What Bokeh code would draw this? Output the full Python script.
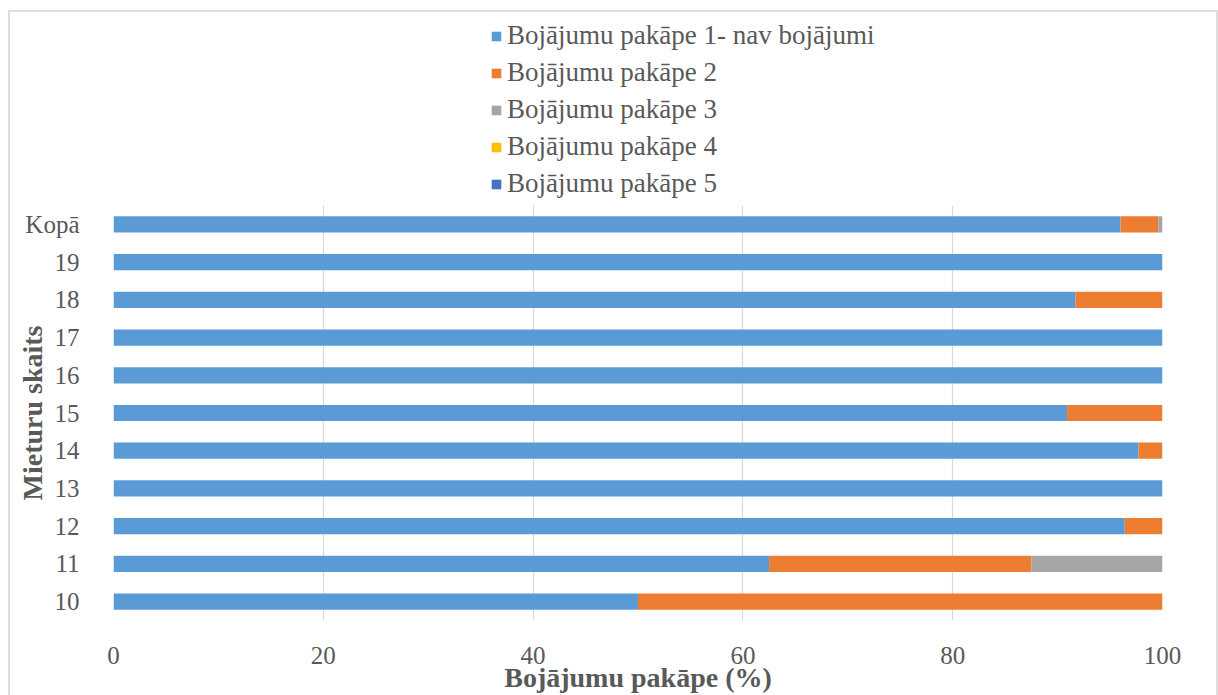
from bokeh.plotting import figure
from bokeh.models import Legend, LegendItem, FixedTicker, Range1d, FactorRange
from bokeh.layouts import column
from bokeh.embed import file_html
from bokeh.resources import INLINE

categories = ["10", "11", "12", "13", "14", "15", "16", "17", "18", "19", "Kopā"]
series_names = [
    "Bojājumu pakāpe 1- nav bojājumi",
    "Bojājumu pakāpe 2",
    "Bojājumu pakāpe 3",
    "Bojājumu pakāpe 4",
    "Bojājumu pakāpe 5",
]
pakape1 = [50.0, 62.5, 96.4, 100.0, 97.7, 90.9, 100.0, 100.0, 91.7, 100.0, 96.0]
pakape2 = [50.0, 25.0, 3.6, 0.0, 2.3, 9.1, 0.0, 0.0, 8.3, 0.0, 3.6]
pakape3 = [0.0, 12.5, 0.0, 0.0, 0.0, 0.0, 0.0, 0.0, 0.0, 0.0, 0.4]
pakape4 = [0.0] * 11
pakape5 = [0.0] * 11
x_ticks = [0, 20, 40, 60, 80, 100]
x_title = "Bojājumu pakāpe (%)"
y_title = "Mieturu skaits"

colors = ["#5B9BD5", "#ED7D31", "#A5A5A5", "#FFC000", "#4472C4"]
keys = ["s1", "s2", "s3", "s4", "s5"]
data = {"cat": categories, "s1": pakape1, "s2": pakape2, "s3": pakape3, "s4": pakape4, "s5": pakape5}

FONT = "Liberation Serif"
TXT = "#595959"
W = 1206

# ---- legend strip (its own small figure, so the legend is not clipped) ----
pl = figure(width=W, height=187, x_range=Range1d(0, 1), y_range=Range1d(0, 1),
            output_backend="svg", toolbar_location=None, min_border=0)
pl.axis.visible = False
pl.grid.grid_line_color = None
pl.outline_line_color = None
# zero-size swatch carriers (draw nothing themselves, only feed the legend)
leg_renderers = [pl.hbar(y=[0.5], left=[0.5], right=[0.5], height=0.0, fill_color=c, line_color=None)
                 for c in colors]
items = [LegendItem(label=n, renderers=[r]) for n, r in zip(series_names, leg_renderers)]
legend = Legend(items=items, location=(377, 0), orientation="vertical",
                label_text_font=FONT, label_text_font_size="27px", label_text_color=TXT,
                glyph_width=12, glyph_height=12, label_height=30, spacing=6,
                padding=0, margin=0, border_line_color=None,
                background_fill_alpha=0, label_standoff=5)
pl.add_layout(legend)

# ---- main chart ----
p = figure(width=W, height=496, y_range=FactorRange(*categories, range_padding=0),
           x_range=Range1d(0, 100), output_backend="svg", toolbar_location=None,
           min_border_left=103, min_border_right=54, min_border_top=6, min_border_bottom=75)

p.hbar_stack(keys, y="cat", height=0.43, fill_color=colors, line_color=None, source=data)

p.outline_line_color = None
p.ygrid.grid_line_color = None
p.xgrid.grid_line_color = "#D9D9D9"
p.xgrid.grid_line_width = 1.2
p.xaxis.ticker = FixedTicker(ticks=x_ticks)

for ax in (p.xaxis[0], p.yaxis[0]):
    ax.axis_line_color = None
    ax.major_tick_line_color = None
    ax.minor_tick_line_color = None
    ax.major_label_text_font = FONT
    ax.major_label_text_font_size = "25px"
    ax.major_label_text_color = TXT
    ax.axis_label_text_font = FONT
    ax.axis_label_text_font_style = "bold"
    ax.axis_label_text_color = TXT

p.yaxis.major_label_standoff = 28
p.xaxis.major_label_standoff = 20
p.xaxis.axis_label = x_title
p.xaxis.axis_label_text_font_size = "28px"
p.xaxis.axis_label_standoff = -5

p.yaxis.axis_label = y_title
p.yaxis.axis_label_text_font_size = "28px"
p.yaxis.axis_label_standoff = -26

layout = column(pl, p, spacing=0,
                styles={"margin-left": "8px", "margin-top": "10px",
                        "border": "2px solid #DEDEDE", "border-bottom": "none"})

open("out.html", "w").write(file_html(layout, INLINE))
